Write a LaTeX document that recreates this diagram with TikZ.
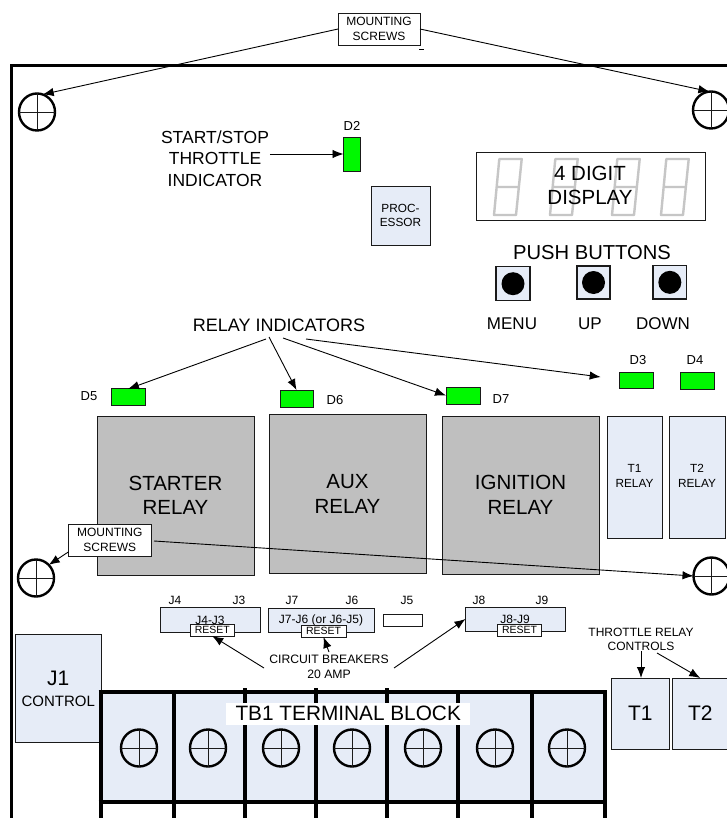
\documentclass[tikz,border=0pt]{standalone}
\usepackage{fontspec}
\setmainfont{Liberation Sans}
\usetikzlibrary{arrows.meta,shapes.geometric}
\definecolor{pale}{HTML}{E6ECF7}
\definecolor{relaygray}{HTML}{BFBFBF}
\definecolor{led}{HTML}{00F800}
\definecolor{seg}{HTML}{C6C6C6}
\definecolor{ink}{HTML}{1A1A1A}
\newcommand{\fs}[2]{\fontsize{#1}{#2}\selectfont}
\newcommand{\bx}[7]{%
  \pgfmathsetmacro\cxx{(#2+#4)/2}\pgfmathsetmacro\cyy{(#3+#5)/2}%
  \pgfmathsetmacro\wdd{#4-#2}\pgfmathsetmacro\htt{#5-#3}%
  \node[#6,minimum width=\wdd pt,minimum height=\htt pt] (#1) at (\cxx,\cyy) {#7};}
\tikzset{
  bbox/.style={draw=ink,line width=0.9pt,inner sep=0pt,outer sep=0pt,align=center,text=black},
  palebox/.style={bbox,fill=pale},
  whitebox/.style={bbox,fill=white},
  relaybox/.style={bbox,fill=relaygray},
  ledbox/.style={bbox,fill=led},
  pushbox/.style={bbox,fill=pale,line width=1.4pt},
  pushdot/.style={circle,fill=black,minimum size=23pt,inner sep=0pt},
  txt/.style={inner sep=0pt,outer sep=1pt,align=center,text=black},
  arrow/.style={draw=black,line width=0.9pt,-{Latex[length=11pt,width=8.5pt]}},
  plainline/.style={draw=black,line width=0.9pt},
  screw/.style={ellipse,draw=black,line width=2.4pt,minimum width=36pt,minimum height=37pt,inner sep=0pt,outer sep=0pt},
  screwcross/.style={draw=ink,line width=0.8pt},
  segline/.style={draw=seg,line width=2.4pt,line join=round},
  frameline/.style={draw=black,line width=3pt},
  tbline/.style={draw=black,line width=4pt},
}
\newcommand{\screwat}[3]{\node[screw] (#1) at (#2,#3) {};
  \draw[screwcross] (#1.north)--(#1.south) (#1.west)--(#1.east);}
\newcommand{\digitat}[1]{\begin{scope}[xshift=#1pt]
  \draw[segline] (499.3,159)--(521.7,159)--(516,215)--(494,215)--cycle (497,187)--(519,187);
  \end{scope}}
\begin{document}
\begin{tikzpicture}[x=1pt,y=-1pt]
\useasboundingbox (0,0) rectangle (727,818);
\fill[white] (0,0) rectangle (727,818);
% frame
\draw[frameline] (11,818)--(11,66)--(727,66);
% top screws
\screwat{stl}{37}{112}
\screwat{str}{711}{110}
% top label
\bx{msa}{338}{13}{420}{45}{whitebox,font=\fs{12}{15}}{MOUNTING\\SCREWS}
\draw[plainline,line width=0.6pt] (419,49)--(424,49);
\draw[arrow] (msa.west) -- (stl.72);
\draw[arrow] (msa.east) -- (str.95);
% D2
\bx{dtwo}{343.5}{137}{360.7}{171}{ledbox}{}
\node[txt,font=\fs{13}{15}] (dtwol) at (352,126) {D2};
\node[txt,font=\fs{17.5}{21.5}] (ssi) at (215,158.5) {START/STOP\\THROTTLE\\INDICATOR};
\draw[arrow] (ssi.east |- dtwo.west) -- (dtwo.west);
% processor
\bx{proc}{371}{186}{430}{245}{palebox,font=\fs{11.8}{14}}{PROC-\\ESSOR}
% display
\bx{disp}{476.5}{152}{705.5}{220}{whitebox}{}
\digitat{0}\digitat{56}\digitat{118}\digitat{167}
\node[txt,font=\fs{20.5}{24}] (dispt) at (590,185) {4 DIGIT\\DISPLAY};
% push buttons
\node[txt,font=\fs{20.2}{24}] (pbl) at (592,253) {PUSH BUTTONS};
\bx{pba}{496}{266.7}{530}{300.7}{pushbox}{}
\bx{pbb}{577}{266}{610}{299}{pushbox}{}
\bx{pbc}{653}{265.7}{686.7}{299}{pushbox}{}
\node[pushdot] (pda) at (pba.center) {};
\node[pushdot] (pdb) at (pbb.center) {};
\node[pushdot] (pdc) at (pbc.center) {};
\node[txt,font=\fs{17}{20}] (menu) at (512,324) {MENU};
\node[txt,font=\fs{17}{20}] (up) at (590,324) {UP};
\node[txt,font=\fs{17}{20}] (down) at (663,324) {DOWN};
% relay indicators
\node[txt,font=\fs{18}{20}] (ri) at (279,325) {RELAY INDICATORS};
\bx{dfive}{111}{388}{145}{405}{ledbox}{}
\bx{dsix}{280}{390}{313}{407}{ledbox}{}
\bx{dseven}{446}{387}{480}{404}{ledbox}{}
\bx{dthree}{619}{372}{653}{388}{ledbox}{}
\bx{dfour}{680}{372}{714}{389}{ledbox}{}
\node[txt,font=\fs{13}{15}] (dfivel) at (89,396) {D5};
\node[txt,font=\fs{13}{15}] (dsixl) at (335,400) {D6};
\node[txt,font=\fs{13}{15}] (dsevenl) at (501,399) {D7};
\node[txt,font=\fs{13}{15}] (dthreel) at (638,360) {D3};
\node[txt,font=\fs{13}{15}] (dfourl) at (695,360) {D4};
\coordinate (ria) at (266,339);
\coordinate (rib) at (269,337);
\coordinate (ric) at (283,338);
\coordinate (rid) at (306,339);
\coordinate (ridend) at (600.7,377);
\coordinate (rifive) at (128,389);
\draw[arrow] (ria) -- (rifive);
\draw[arrow] (rib) -- (dsix.north);
\draw[arrow] (ric) -- (dseven.west);
\draw[arrow] (rid) -- (ridend);
% relays
\bx{rst}{97}{416}{254}{575}{relaybox,font=\fs{20.5}{24.5}}{STARTER\\RELAY}
\bx{rax}{269}{414}{426}{573}{relaybox,font=\fs{20.5}{25}}{AUX\\RELAY}
\bx{rig}{442}{416}{599}{574}{relaybox,font=\fs{20.5}{25}}{IGNITION\\RELAY}
\bx{rta}{607}{416}{662}{538}{palebox}{}
\bx{rtb}{669}{416}{725}{538}{palebox}{}
\node[txt,font=\fs{11.8}{15}] (rtat) at (634.5,475.5) {T1\\RELAY};
\node[txt,font=\fs{11.8}{15}] (rtbt) at (697,475.5) {T2\\RELAY};
% lower screws
\screwat{sll}{36}{578}
\screwat{slr}{711.5}{576}
\bx{msb}{68.6}{524}{151}{556}{whitebox,font=\fs{12}{15}}{MOUNTING\\SCREWS}
\coordinate (msbr) at (154,541);
\draw[arrow] (msb.196) -- (sll.north east);
\draw[arrow] (msbr) -- (slr.west);
% jumpers
\foreach \nm/\lab/\xx in {jf/J4/175,jt/J3/239,js/J7/292,jx/J6/352,jv/J5/407,je/J8/479,jn/J9/542}
  {\node[txt,font=\fs{12}{14}] (\nm) at (\xx,600) {\lab};}
\bx{jba}{160}{607.3}{260}{632.7}{palebox}{}
\bx{jbb}{268}{608.5}{374}{632.7}{palebox}{}
\bx{jbc}{383}{614}{422}{626}{whitebox}{}
\bx{jbd}{465.5}{607}{565}{631}{palebox}{}
\node[txt,font=\fs{12}{14}] (jta) at (210,620) {J4-J3};
\node[txt,font=\fs{12}{14}] (jtb) at (321,620) {J7-J6 (or J6-J5)};
\node[txt,font=\fs{12}{14}] (jtd) at (515,619) {J8-J9};
\bx{rsa}{190}{624.5}{234.5}{636}{whitebox,font=\fs{10.5}{12}}{RESET}
\bx{rsb}{301}{625}{346}{637}{whitebox,font=\fs{10.5}{12}}{RESET}
\bx{rsc}{497.5}{624.5}{541.5}{636}{whitebox,font=\fs{10.5}{12}}{RESET}
\node[txt,font=\fs{12.2}{14.5}] (cb) at (329,667) {CIRCUIT BREAKERS\\20 AMP};
\coordinate (cba) at (264,668);
\coordinate (cbb) at (329,652);
\coordinate (cbc) at (394,668);
\draw[arrow] (cba) -- (rsa.south);
\draw[arrow] (cbb) -- (rsb.south);
\draw[arrow] (cbc) -- (jbd.west);
% throttle
\node[txt,font=\fs{12}{14}] (trc) at (641,639) {THROTTLE RELAY\\CONTROLS};
\bx{ta}{611}{678}{669.5}{749}{palebox,font=\fs{21}{24}}{T1}
\bx{tb}{672.5}{678}{728}{749}{palebox,font=\fs{21}{24}}{T2}
\coordinate (trcb) at (657,653);
\draw[arrow] (trc.south) -- (trc.south |- ta.north);
\draw[arrow] (trcb) -- (tb.north);
% J1
\bx{jone}{15.5}{634.5}{101}{742.5}{palebox,font=\fs{21}{24}}{J1\\[-3pt]\fs{15}{18}CONTROL}
% terminal block
\fill[pale] (100.6,691.5) rectangle (605,801.7);
\foreach \xx in {100.6,174,458,532,605}
  {\draw[tbline] (\xx,691.5)--(\xx,818);}
\foreach \xx in {245,316,387}
  {\draw[tbline] (\xx,688)--(\xx,818);}
\draw[tbline] (98.6,691.5)--(607,691.5);
\draw[tbline] (98.6,801.7)--(607,801.7);
\foreach \nm/\xx in {ta/139,tb/208,tc/281,td/352,te/423,tf/495,tg/567}
  {\screwat{s\nm}{\xx}{748}}
\node[fill=white,inner sep=0pt,minimum width=244.5pt,minimum height=22.3pt,text=black,font=\fs{20.8}{24}] (tbl) at (348.2,713.8) {TB1 TERMINAL BLOCK};
\end{tikzpicture}
\end{document}
